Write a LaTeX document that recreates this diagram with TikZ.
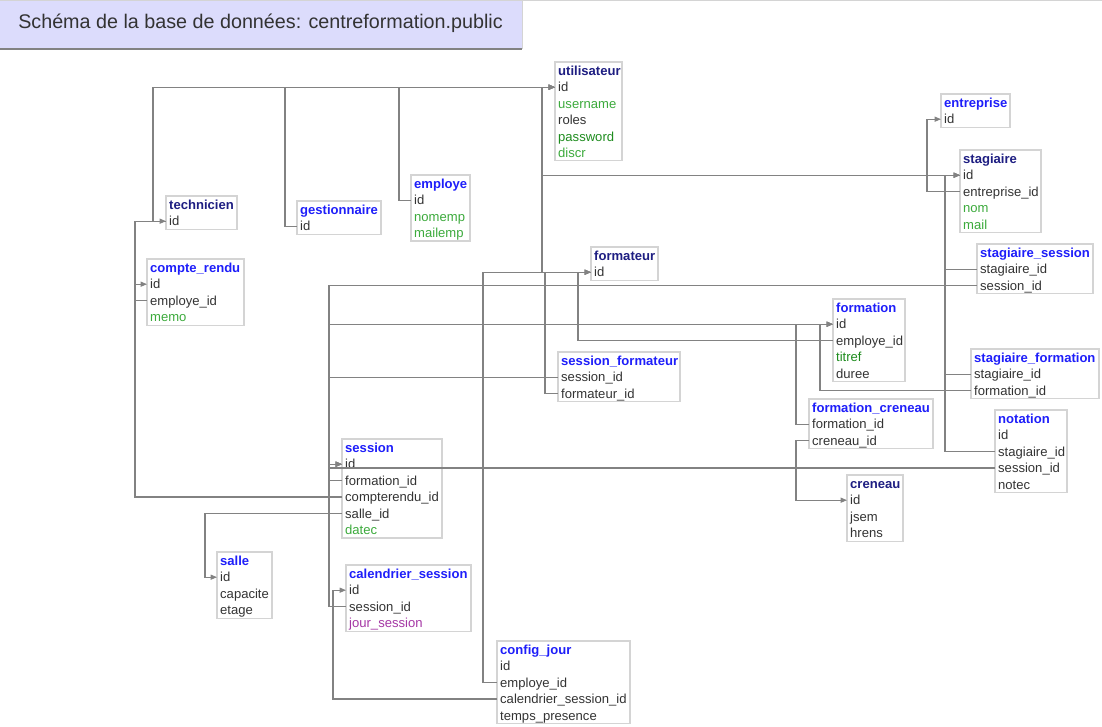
\documentclass[tikz,border=0pt]{standalone}
\usepackage{fontspec}
\setmainfont{Liberation Sans}
\usepackage{tikz}
\usetikzlibrary{arrows.meta}
\definecolor{HeadNavy}{RGB}{30,30,130}
\definecolor{HeadBlue}{RGB}{30,30,250}
\definecolor{FieldGray}{RGB}{51,51,51}
\definecolor{FieldGreen}{RGB}{60,170,60}
\definecolor{FieldGreenDark}{RGB}{30,140,30}
\definecolor{FieldPurple}{RGB}{165,55,165}
\definecolor{LinkGray}{RGB}{130,130,130}
\definecolor{BoxGray}{RGB}{212,212,212}
\definecolor{TitleFill}{RGB}{220,220,252}

\newcommand{\dbtable}[8]{%
  \draw[tblbox] (#2,#3) rectangle ++(#4,{16.4*(#5+1)+0.5});
  \node[tblhead, text=#6] (#1-0) at (#2,{#3+8.8}) {#7};
  \foreach \txt/\col [count=\k] in {#8}
    \node[field, text=\col] (#1-\k) at (#2,{#3+8.8+16.4*\k}) {\txt};
}

\begin{document}
\begin{tikzpicture}[x=0.75pt, y=-0.75pt,
    tblbox/.style={draw=BoxGray, line width=0.9pt, fill=white},
    field/.style={anchor=west, inner xsep=2.2pt, inner ysep=0pt, text height=7pt, text depth=0pt, font=\fontsize{9.8}{11}\selectfont},
    tblhead/.style={field, font=\bfseries\fontsize{9.8}{11}\selectfont},
    fk/.style={draw=LinkGray, line width=0.85pt, -{Triangle[length=4.8pt, width=3.8pt]}}]
\useasboundingbox (0,0) rectangle (1102,727);
\fill[TitleFill] (0,0) rectangle (522,49);
\draw[BoxGray, line width=0.75pt] (0,0.5) -- (1102,0.5);
\draw[BoxGray, line width=0.75pt] (522,0.5) -- (522,49);
\draw[LinkGray, line width=1.5pt] (0,49) -- (522,49);
\node[anchor=base west, inner sep=0pt, text=FieldGray, font=\fontsize{14.8}{17}\selectfont] (title) at (18,28.5) {Schéma de la base de données: centreformation.public};

\dbtable{utilisateur}{555}{62}{67}{5}{HeadNavy}{utilisateur}{id/FieldGray, username/FieldGreen, roles/FieldGray, password/FieldGreenDark, discr/FieldGreen}
\dbtable{technicien}{166}{196}{71}{1}{HeadNavy}{technicien}{id/FieldGray}
\dbtable{gestionnaire}{297}{201}{84}{1}{HeadBlue}{gestionnaire}{id/FieldGray}
\dbtable{employe}{411}{175}{59}{3}{HeadBlue}{employe}{id/FieldGray, nomemp/FieldGreen, mailemp/FieldGreen}
\dbtable{compterendu}{147}{259}{97}{3}{HeadBlue}{compte\_rendu}{id/FieldGray, employe\_id/FieldGray, memo/FieldGreen}
\dbtable{formateur}{591}{247}{67}{1}{HeadNavy}{formateur}{id/FieldGray}
\dbtable{entreprise}{941}{94}{69}{1}{HeadBlue}{entreprise}{id/FieldGray}
\dbtable{stagiaire}{960}{150}{81}{4}{HeadNavy}{stagiaire}{id/FieldGray, entreprise\_id/FieldGray, nom/FieldGreen, mail/FieldGreen}
\dbtable{stagsession}{977}{244}{116}{2}{HeadBlue}{stagiaire\_session}{stagiaire\_id/FieldGray, session\_id/FieldGray}
\dbtable{formation}{833}{299}{72}{4}{HeadBlue}{formation}{id/FieldGray, employe\_id/FieldGray, titref/FieldGreenDark, duree/FieldGray}
\dbtable{sessformateur}{558}{352}{122}{2}{HeadBlue}{session\_formateur}{session\_id/FieldGray, formateur\_id/FieldGray}
\dbtable{stagformation}{971}{349}{128}{2}{HeadBlue}{stagiaire\_formation}{stagiaire\_id/FieldGray, formation\_id/FieldGray}
\dbtable{formcreneau}{809}{399}{124}{2}{HeadBlue}{formation\_creneau}{formation\_id/FieldGray, creneau\_id/FieldGray}
\dbtable{notation}{995}{410}{72}{4}{HeadBlue}{notation}{id/FieldGray, stagiaire\_id/FieldGray, session\_id/FieldGray, notec/FieldGray}
\dbtable{creneau}{847}{475}{56}{3}{HeadNavy}{creneau}{id/FieldGray, jsem/FieldGray, hrens/FieldGray}
\dbtable{session}{342}{439}{100}{5}{HeadBlue}{session}{id/FieldGray, formation\_id/FieldGray, compterendu\_id/FieldGray, salle\_id/FieldGray, datec/FieldGreen}
\dbtable{salle}{217}{552}{55}{3}{HeadBlue}{salle}{id/FieldGray, capacite/FieldGray, etage/FieldGray}
\dbtable{calsession}{346}{565}{125}{3}{HeadBlue}{calendrier\_session}{id/FieldGray, session\_id/FieldGray, jour\_session/FieldPurple}
\dbtable{configjour}{497}{641}{133}{4}{HeadBlue}{config\_jour}{id/FieldGray, employe\_id/FieldGray, calendrier\_session\_id/FieldGray, temps\_presence/FieldGray}

\foreach \src/\bx/\dst in {technicien-1/153/utilisateur-1, gestionnaire-1/285/utilisateur-1,
    employe-1/399/utilisateur-1, formateur-1/542/utilisateur-1, stagiaire-1/542/utilisateur-1,
    compterendu-2/135/technicien-1, session-3/135/compterendu-1, session-4/205/salle-1,
    stagiaire-2/927/entreprise-1, stagsession-1/945/stagiaire-1, stagformation-1/945/stagiaire-1,
    notation-2/945/stagiaire-1, stagsession-2/329/session-1, sessformateur-1/329/session-1,
    notation-3/329/session-1, calsession-2/329/session-1, session-2/329/formation-1,
    formcreneau-1/796/formation-1, stagformation-2/820/formation-1, formation-2/578/formateur-1,
    sessformateur-2/545/formateur-1, configjour-2/483/formateur-1, configjour-3/333/calsession-1,
    formcreneau-2/796/creneau-1}
  \draw[fk] (\src.west) -| (\bx,0 |- \dst.west) -- (\dst.west);
\end{tikzpicture}
\end{document}
